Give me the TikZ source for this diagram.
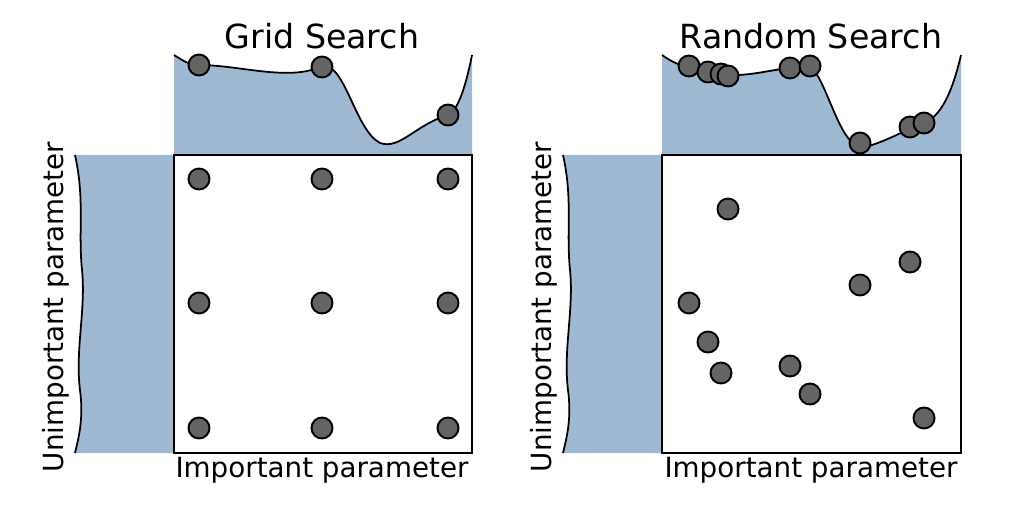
\documentclass[tikz,border=0pt]{standalone}
\usepackage{fontspec}
\setmainfont{DejaVu Sans}
\begin{document}
\begin{tikzpicture}[x=0.02cm,y=-0.02cm,
  dist/.style={fill={rgb,255:red,160;green,185;blue,210},draw=none},
  dot/.style={circle,draw=black,line width=1.1pt,fill={rgb,255:red,100;green,100;blue,100},minimum size=21*0.02cm,inner sep=0pt},
  title/.style={font=\fontsize{18.9}{22}\selectfont},
  lab/.style={font=\fontsize{15.8}{18}\selectfont}]
\useasboundingbox (0,0) rectangle (1016,506);
% ---------- left panel
\fill[dist] (174,155) -- (174,55) .. controls (185,62) and (190,65) .. (199,65) .. controls (240,65) and (290,82) .. (322,66) .. controls (345,62) and (355,130) .. (380,143) .. controls (400,150) and (415,125) .. (448,115) .. controls (460,110) and (468,75) .. (472,55) -- (472,155) -- cycle;
\draw[line width=1pt] (174,55) .. controls (185,62) and (190,65) .. (199,65) .. controls (240,65) and (290,82) .. (322,66) .. controls (345,62) and (355,130) .. (380,143) .. controls (400,150) and (415,125) .. (448,115) .. controls (460,110) and (468,75) .. (472,55);
\fill[dist] (174,155) -- (75,155) .. controls (85,200) and (78,230) .. (82,270) .. controls (86,310) and (75,350) .. (80,390) .. controls (84,420) and (78,440) .. (75,453) -- (174,453) -- cycle;
\draw[line width=1pt] (75,155) .. controls (85,200) and (78,230) .. (82,270) .. controls (86,310) and (75,350) .. (80,390) .. controls (84,420) and (78,440) .. (75,453);
\draw[line width=1pt] (174,155) rectangle (472,453);
\node[title] (t1) at (322,36) {Grid Search};
\node[lab] (x1) at (322,470) {Important parameter};
\node[lab,rotate=90] (y1) at (56,307) {Unimportant parameter};
\foreach \x in {199,322,448}{\foreach \y in {179,303,428}{\node[dot] at (\x,\y) {};}}
\node[dot] (a1) at (199,65) {};
\node[dot] (a2) at (322,67) {};
\node[dot] (a3) at (448,115) {};
% ---------- right panel
\fill[dist] (662,155) -- (662,55) .. controls (672,62) and (680,66) .. (689,66) .. controls (700,68) and (715,75) .. (728,75) .. controls (750,76) and (770,70) .. (790,68) .. controls (800,66) and (812,64) .. (820,80) .. controls (835,110) and (845,150) .. (865,147) .. controls (885,142) and (905,130) .. (924,123) .. controls (945,115) and (955,80) .. (961,55) -- (961,155) -- cycle;
\draw[line width=1pt] (662,55) .. controls (672,62) and (680,66) .. (689,66) .. controls (700,68) and (715,75) .. (728,75) .. controls (750,76) and (770,70) .. (790,68) .. controls (800,66) and (812,64) .. (820,80) .. controls (835,110) and (845,150) .. (865,147) .. controls (885,142) and (905,130) .. (924,123) .. controls (945,115) and (955,80) .. (961,55);
\fill[dist] (662,155) -- (563,155) .. controls (573,200) and (566,230) .. (570,270) .. controls (574,310) and (563,350) .. (568,390) .. controls (572,420) and (566,440) .. (563,453) -- (662,453) -- cycle;
\draw[line width=1pt] (563,155) .. controls (573,200) and (566,230) .. (570,270) .. controls (574,310) and (563,350) .. (568,390) .. controls (572,420) and (566,440) .. (563,453);
\draw[line width=1pt] (662,155) rectangle (961,453);
\node[title] (t2) at (811,36) {Random Search};
\node[lab] (x2) at (811,470) {Important parameter};
\node[lab,rotate=90] (y2) at (544,307) {Unimportant parameter};
\foreach \p in {(728,209),(689,303),(708,342),(721,373),(790,366),(810,394),(860,285),(910,262),(924,418)}{\node[dot] at \p {};}
\foreach \p in {(689,66),(708,72),(721,74),(728,76),(790,68),(810,66),(860,143),(910,127),(924,123)}{\node[dot] at \p {};}
\end{tikzpicture}
\end{document}
